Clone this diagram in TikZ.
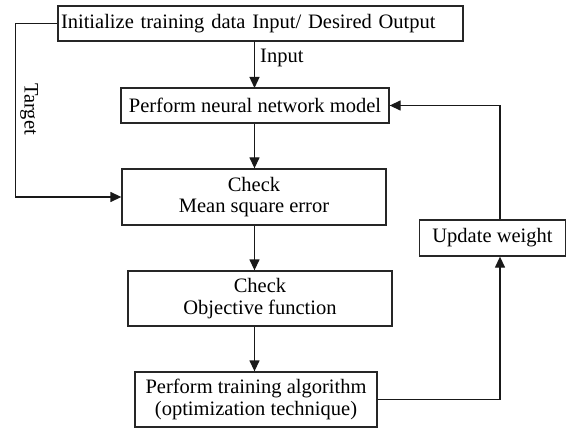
\documentclass[tikz,border=0pt]{standalone}
\usepackage{fontspec}
\setmainfont{Liberation Serif}
\usetikzlibrary{arrows.meta,calc}
\begin{document}
\begin{tikzpicture}[x=1pt,y=-1pt,
  box/.style={draw=black!85, line width=1.3pt, rectangle, inner sep=0pt, align=center, font=\fontsize{20.5}{21.5}\selectfont},
  arr/.style={line width=1.3pt, draw=black!90, -{Triangle[length=11pt,width=10pt]}},
  lbl/.style={font=\fontsize{20.5}{21.5}\selectfont, inner sep=0pt}]
\useasboundingbox (0,0) rectangle (566,428);
\node[box, minimum width=405pt, minimum height=35pt, text width=399pt, align=left] (b1) at (260.5,23.5) {Initialize training data Input/ Desired Output};
\node[box, minimum width=268pt, minimum height=35pt] (b2) at (255,105.5) {Perform neural network model};
\node[box, minimum width=264pt, minimum height=56pt] (b3) at (254,197) {Check\\Mean square error};
\node[box, minimum width=264pt, minimum height=55pt] (b4) at (260,298.5) {Check\\Objective function};
\node[box, minimum width=242pt, minimum height=55pt] (b5) at (256,399.5) {Perform training algorithm\\(optimization technique)};
\node[box, minimum width=146pt, minimum height=36pt] (up) at (492.5,238) {Update weight};
\coordinate (c1) at (254.5,41.5);
\coordinate (c2) at (254.5,88);
\draw[arr] (c1) -- (c2);
\node[lbl, anchor=west] (inp) at (260,58) {Input};
\draw[arr] (b2.south -| c1) -- (b3.north -| c1);
\draw[arr] (b3.south -| c1) -- (b4.north -| c1);
\draw[arr] (b4.south -| c1) -- (b5.north -| c1);
\draw[arr] (b1.west) -- ++(-42,0) |- (b3.west);
\node[lbl, rotate=-90] (tgt) at (29,109) {Target};
\coordinate (r1) at ($(up.south)+(7.5,0)$);
\coordinate (r2) at ($(up.north)+(7.5,0)$);
\draw[arr] (b5.east) -| (r1);
\draw[arr] (r2) |- (b2.east);
\end{tikzpicture}
\end{document}
